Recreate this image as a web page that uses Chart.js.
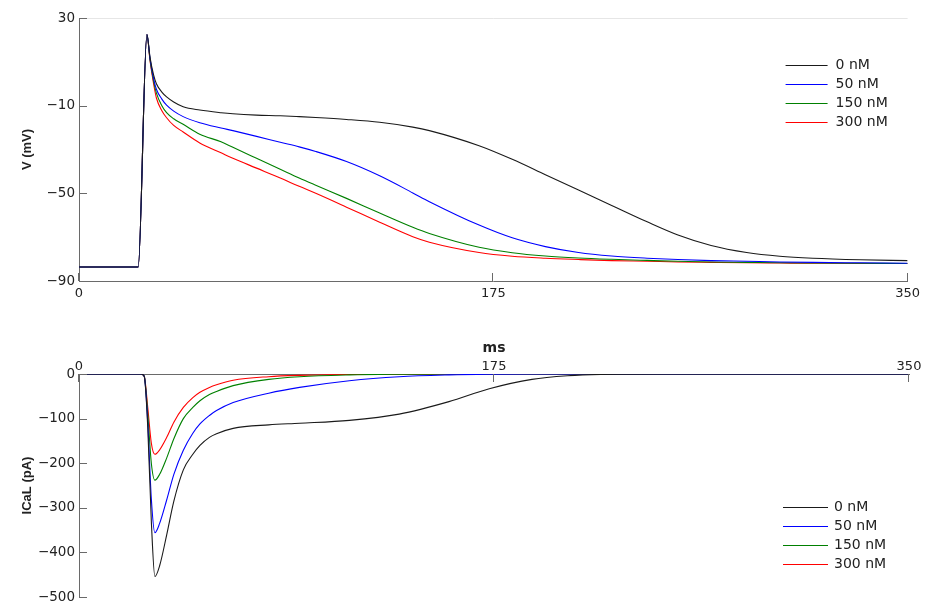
<!DOCTYPE html>
<html>
<head>
<meta charset="utf-8">
<script src="https://cdn.jsdelivr.net/npm/chart.js@4/dist/chart.umd.min.js"></script>
<style>
  html, body { margin: 0; padding: 0; background: #fff; overflow: hidden; width: 925px; height: 602px; }
  #wrap { position: relative; width: 925px; height: 602px; }
  canvas { position: absolute; left: 0; }
  #cV { top: 0; }
  #cI { top: 300px; }
</style>
</head>
<body>
<div id="wrap">
  <canvas id="cV" width="925" height="300"></canvas>
  <canvas id="cI" width="925" height="310"></canvas>
</div>
<script>
// ---------- Data ----------
const seriesLabels = ['0 nM', '50 nM', '150 nM', '300 nM'];
const seriesColors = ['#1a1a1a', '#0000ff', '#008000', '#ff0000'];

// Membrane potential (top panel), ms / mV
const timeV  = [0, 25, 28.7, 30, 31.5, 32.7, 35, 37, 40, 44, 51, 60, 65, 75, 85, 93, 100, 113, 127, 141, 148, 169, 183, 197, 211, 225, 240, 253, 267, 282, 296, 310, 330, 350];
const v0nM   = [-83.6, -83.6, 22.5, 12, 4, 0, -3.8, -6, -8.3, -10.5, -12, -13.2, -13.7, -14.3, -14.6, -15, -15.4, -16.3, -17.6, -19.8, -21.4, -28.3, -34.5, -41.5, -48.5, -55.5, -63, -69, -73.8, -77, -78.7, -79.6, -80.3, -80.7];
const v50nM  = [-83.6, -83.6, 22.5, 11.5, 2.5, -2.5, -7, -9.8, -12.5, -15, -17.8, -20.2, -21.4, -24, -26.7, -28.8, -30.9, -35.5, -42, -49.8, -53.8, -64.5, -70.3, -74.3, -77, -78.6, -79.6, -80.2, -80.7, -81, -81.3, -81.5, -81.7, -81.9];
const v150nM = [-83.6, -83.6, 22.5, 11, 1.2, -4.3, -10, -13.2, -16, -18.5, -23, -26.5, -29, -34, -39, -43, -46.3, -52.3, -59, -65.5, -68.3, -74.6, -77.1, -78.6, -79.5, -80.1, -80.6, -81, -81.3, -81.5, -81.7, -81.8, -81.9, -82];
const v300nM = [-83.6, -83.6, 22.5, 10.5, 0, -6.5, -12.3, -15.5, -19, -22, -27, -31.5, -34, -38.5, -43, -46.8, -50, -56.3, -63.2, -69.8, -72.3, -77, -78.7, -79.6, -80.2, -80.7, -81, -81.3, -81.5, -81.7, -81.8, -81.9, -82, -82];

// L-type calcium current (bottom panel), ms / pA
const timeI  = [0, 26, 27.5, 29, 30.5, 32, 34, 37, 40, 44, 48, 51, 55, 58, 65, 80, 93, 114, 135, 156, 173, 191, 206, 220, 250, 350];
const i0nM   = [0, 0, -5, -120, -330, -454, -430, -360, -285, -215, -180, -160, -142, -134, -122, -114, -110.5, -104, -90, -62, -33, -12, -4, -1, 0, 0];
const i50nM  = [0, 0, -5, -110, -280, -356, -335, -282, -225, -171, -133, -112, -93, -82, -64, -43, -30, -15, -6, -2, -0.5, 0, 0, 0, 0, 0];
const i150nM = [0, 0, -5, -90, -200, -238, -225, -188, -145, -100, -75, -60, -46, -39, -26, -12, -6, -2, -0.5, 0, 0, 0, 0, 0, 0, 0];
const i300nM = [0, 0, -5, -75, -155, -180, -170, -142, -108, -75, -53, -41, -30, -24, -14, -6, -3, -1, 0, 0, 0, 0, 0, 0, 0, 0];

const xTicks  = [0, 175, 350];
const yTicksV = [-90, -50, -10, 30];
const yTicksI = [-500, -400, -300, -200, -100, 0];

// ---------- Helpers ----------
const FONT = 'DejaVu Sans';
const AXIS_COLOR = '#6a6a6a';
const TEXT_COLOR = '#222';
const fmt = v => String(v).replace('-', '\u2212');

function makeDatasets(t, arrays) {
  return arrays.map((arr, k) => ({
    label: seriesLabels[k],
    data: t.map((x, i) => ({ x: x, y: arr[i] })),
    borderColor: seriesColors[k],
    backgroundColor: seriesColors[k],
    borderWidth: 1.1,
    pointRadius: 0,
    cubicInterpolationMode: 'monotone',
    fill: false
  }));
}

const innerTicks = {
  id: 'innerTicks',
  afterDraw(chart, args, opts) {
    const ctx = chart.ctx, a = chart.chartArea;
    ctx.save();
    ctx.lineWidth = 1;
    if (opts.topLine) {
      ctx.strokeStyle = '#e6e6e6';
      ctx.beginPath();
      ctx.moveTo(a.left, Math.round(a.top) + 0.5);
      ctx.lineTo(a.right, Math.round(a.top) + 0.5);
      ctx.stroke();
    }
    ctx.strokeStyle = AXIS_COLOR;
    const ys = chart.scales.y, xs = chart.scales.x;
    ys.ticks.forEach(t => {
      const p = Math.round(ys.getPixelForValue(t.value)) + 0.5;
      ctx.beginPath(); ctx.moveTo(a.left, p); ctx.lineTo(a.left + 8, p); ctx.stroke();
    });
    const top = xs.options.position === 'top';
    const base = top ? a.top : a.bottom;
    const dir = top ? 1 : -1;
    xs.ticks.forEach(t => {
      const p = Math.round(xs.getPixelForValue(t.value)) - 0.5;
      ctx.beginPath(); ctx.moveTo(p, base); ctx.lineTo(p, base + dir * 8); ctx.stroke();
    });
    ctx.restore();
  }
};

const insideLegend = {
  id: 'insideLegend',
  afterDraw(chart, args, opts) {
    const ctx = chart.ctx, a = chart.chartArea;
    ctx.save();
    ctx.font = '14px "' + FONT + '"';
    ctx.textBaseline = 'middle';
    ctx.textAlign = 'left';
    chart.data.datasets.forEach((ds, i) => {
      const y = Math.round(a.top + opts.offsetY + i * 19) + 0.5;
      ctx.strokeStyle = ds.borderColor;
      ctx.lineWidth = 1;
      ctx.beginPath();
      ctx.moveTo(a.right - opts.lineStart, y);
      ctx.lineTo(a.right - opts.lineEnd, y);
      ctx.stroke();
      ctx.fillStyle = TEXT_COLOR;
      ctx.fillText(ds.label, a.right - opts.textStart, y);
    });
    ctx.restore();
  }
};

function setTicks(list) {
  return function (scale) { scale.ticks = list.map(v => ({ value: v })); };
}

function baseOptions(cfg) {
  return {
    responsive: false,
    animation: false,
    layout: { padding: cfg.padding },
    plugins: {
      legend: { display: false },
      tooltip: { enabled: false },
      innerTicks: { topLine: cfg.topLine },
      insideLegend: cfg.legend
    },
    scales: {
      x: {
        type: 'linear',
        position: cfg.xPos,
        min: 0, max: 350,
        afterBuildTicks: setTicks(xTicks),
        afterFit: s => { s.height = cfg.xHeight; },
        grid: { display: true, drawOnChartArea: false, drawTicks: false },
        border: { display: true, color: AXIS_COLOR, width: 1 },
        ticks: { color: TEXT_COLOR, font: { family: FONT, size: 13 }, padding: cfg.xPad, maxRotation: 0, autoSkip: false, callback: v => fmt(v) },
        title: cfg.xTitle
      },
      y: {
        type: 'linear',
        min: cfg.yMin, max: cfg.yMax,
        afterBuildTicks: setTicks(cfg.yTicks),
        afterFit: s => { s.width = 79; },
        grid: { display: true, drawOnChartArea: false, drawTicks: false },
        border: { display: true, color: AXIS_COLOR, width: 1 },
        ticks: { color: TEXT_COLOR, font: { family: FONT, size: 13.5 }, padding: 4, autoSkip: false, callback: v => fmt(v) },
        title: { display: true, text: cfg.yTitle, color: TEXT_COLOR, font: { family: 'Liberation Sans', size: 13, weight: 'bold' }, padding: { top: 20, bottom: 0 } }
      }
    }
  };
}

new Chart(document.getElementById('cV'), {
  type: 'line',
  data: { datasets: makeDatasets(timeV, [v0nM, v50nM, v150nM, v300nM]) },
  options: baseOptions({
    padding: { top: 18, right: 16, bottom: 0, left: 0 },
    topLine: true,
    legend: { offsetY: 47, lineStart: 122, lineEnd: 80, textStart: 72 },
    xPos: 'bottom', xHeight: 19, xPad: 5,
    xTitle: { display: false },
    yMin: -90, yMax: 30, yTicks: yTicksV, yTitle: 'V (mV)'
  }),
  plugins: [innerTicks, insideLegend]
});

new Chart(document.getElementById('cI'), {
  type: 'line',
  data: { datasets: makeDatasets(timeI, [i0nM, i50nM, i150nM, i300nM]) },
  options: baseOptions({
    padding: { top: 0, right: 16, bottom: 13, left: 0 },
    topLine: false,
    legend: { offsetY: 133, lineStart: 126, lineEnd: 81, textStart: 75 },
    xPos: 'top', xHeight: 74, xPad: 0,
    xTitle: { display: true, text: 'ms', color: TEXT_COLOR, font: { family: FONT, size: 14, weight: 'bold' }, padding: { top: 40, bottom: 0 } },
    yMin: -500, yMax: 0, yTicks: yTicksI, yTitle: 'ICaL (pA)'
  }),
  plugins: [innerTicks, insideLegend]
});
</script>
</body>
</html>
